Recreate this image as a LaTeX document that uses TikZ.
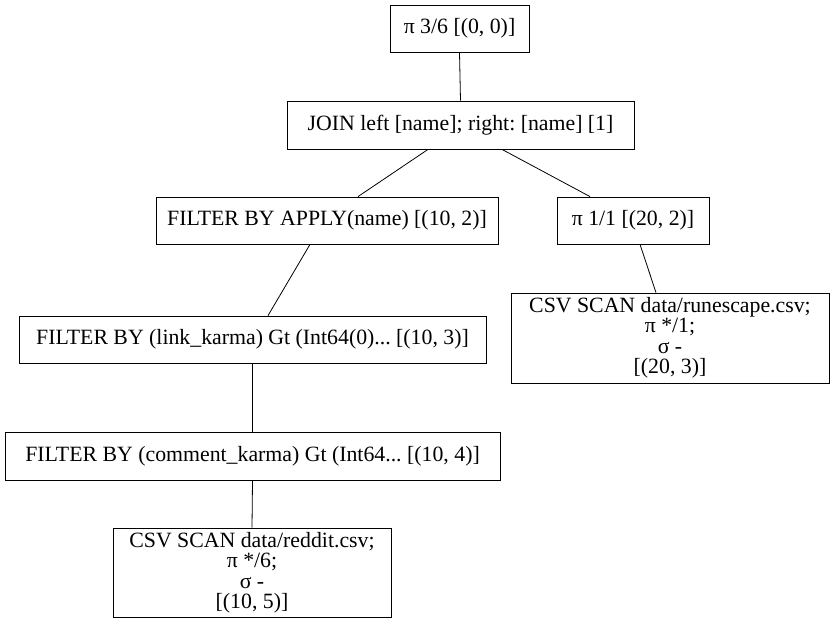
\documentclass[tikz,border=0pt]{standalone}
\usepackage{fontspec}
\setmainfont{Liberation Serif}
\frenchspacing
\begin{document}
\begin{tikzpicture}[x=1pt,y=-1pt,
  box/.style={draw,line width=0.8pt,inner sep=0pt,align=center,font=\fontsize{21.8}{20.5}\selectfont},
  edge/.style={line width=0.8pt}]
\useasboundingbox (0,0) rectangle (835,624);
\node[box,minimum width=139,minimum height=47] (n1) at (459.5,28.5) {π 3/6 [(0, 0)]};
\node[box,minimum width=347,minimum height=48] (n2) at (460.5,125) {JOIN left [name]; right: [name] [1]};
\node[box,minimum width=342,minimum height=47] (n3) at (327,220.5) {FILTER BY APPLY(name) [(10, 2)]};
\node[box,minimum width=152,minimum height=47] (n4) at (633,220.5) {π 1/1 [(20, 2)]};
\node[box,minimum width=467,minimum height=47] (n5) at (252.5,339.5) {FILTER BY (link\_karma) Gt (Int64(0)... [(10, 3)]};
\node[box,minimum width=318,minimum height=90] (n6) at (670,338) {CSV SCAN data/runescape.csv;\\π */1;\\σ -\\{}[(20, 3)]};
\node[box,minimum width=495,minimum height=48] (n7) at (252.5,456) {FILTER BY (comment\_karma) Gt (Int64... [(10, 4)]};
\node[box,minimum width=278,minimum height=89] (n8) at (252,572.5) {CSV SCAN data/reddit.csv;\\π */6;\\σ -\\{}[(10, 5)]};
\draw[edge] (n1.south) -- (n2.north);
\draw[edge] ([xshift=-32.5]n2.south) -- ([xshift=31]n3.north);
\draw[edge] ([xshift=41.5]n2.south) -- ([xshift=-43]n4.north);
\draw[edge] ([xshift=-17]n3.south) -- ([xshift=15.5]n5.north);
\draw[edge] ([xshift=7]n4.south) -- ([xshift=-14]n6.north);
\draw[edge] (n5.south) -- (n7.north);
\draw[edge] (n7.south) -- (n8.north);
\end{tikzpicture}
\end{document}
